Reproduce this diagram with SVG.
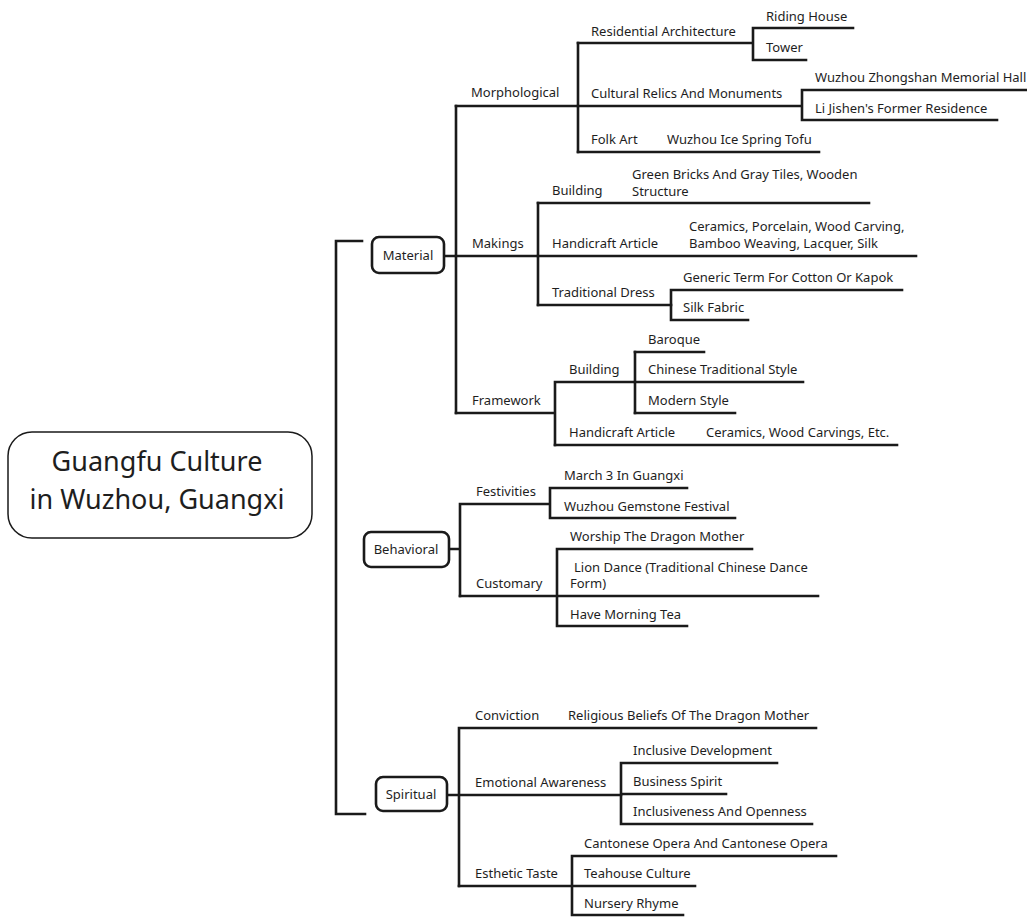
<svg xmlns="http://www.w3.org/2000/svg" width="1027" height="917" viewBox="0 0 1027 917">
<style>
.t{font-family:"Noto Sans","Open Sans","DejaVu Sans",sans-serif;font-size:13px;fill:#1e1e1e}
.big{font-family:"Noto Sans","Open Sans","DejaVu Sans",sans-serif;font-size:27px;fill:#1e1e1e;text-anchor:middle}
.c{text-anchor:middle}
.ln{fill:none;stroke:#1a1a1a;stroke-width:2.6;stroke-linecap:square}
.box{fill:#fff;stroke:#1a1a1a;stroke-width:2.6}
.root{fill:#fff;stroke:#1a1a1a;stroke-width:1.5}
</style>
<rect width="1027" height="917" fill="#fff"/>
<g id="connectors" class="ln">
<path d="M362,241 H336 V814 H365"/>
<path d="M444,256 H456 M456,106 V413"/>
<path d="M456,106 H578 M578,43 V152"/>
<path d="M578,43 H753 M753,28 V60 M753,28 H853 M753,60 H806"/>
<path d="M578,106 H802 M802,90 V120 M802,90 H1030 M802,120 H997"/>
<path d="M578,152 H819"/>
<path d="M456,256 H538 M538,203 V305"/>
<path d="M538,203 H869 M538,256 H916 M538,305 H671"/>
<path d="M671,290 V320 M671,290 H902 M671,320 H748"/>
<path d="M456,413 H555 M555,382 V445 M555,382 H635 M635,352 V413"/>
<path d="M635,352 H704 M635,382 H803 M635,413 H735 M555,445 H897"/>
<path d="M449,549 H460 M460,504 V596 M460,504 H550 M550,488 V518 M550,488 H687 M550,518 H735"/>
<path d="M460,596 H557 M557,549 V626 M557,549 H752 M557,596 H818 M557,626 H687"/>
<path d="M447,795 H459 M459,728 V886 M459,728 H816 M459,795 H621"/>
<path d="M621,763 V824 M621,763 H777 M621,794 H726 M621,824 H812"/>
<path d="M459,886 H572 M572,856 V915 M572,856 H836 M572,886 H695 M572,915 H683"/>
</g>
<g id="root">
<rect class="root" x="8" y="432" width="304" height="106" rx="24"/>
<text class="big" x="157" y="471">Guangfu Culture</text>
<text class="big" x="157" y="509">in Wuzhou, Guangxi</text>
</g>
<g id="material">
<rect class="box" x="372" y="237" width="72" height="36" rx="7"/>
<text class="t c" x="408" y="260">Material</text>
</g>
<g id="morphological"><text class="t" x="471" y="97">Morphological</text></g>
<g id="residential"><text class="t" x="591" y="36">Residential Architecture</text></g>
<g id="riding"><text class="t" x="766" y="21">Riding House</text></g>
<g id="tower"><text class="t" x="766" y="52">Tower</text></g>
<g id="relics"><text class="t" x="591" y="98">Cultural Relics And Monuments</text></g>
<g id="zhongshan"><text class="t" x="815" y="82">Wuzhou Zhongshan Memorial Hall</text></g>
<g id="lijishen"><text class="t" x="815" y="113">Li Jishen's Former Residence</text></g>
<g id="folkart"><text class="t" x="591" y="144">Folk Art</text></g>
<g id="tofu"><text class="t" x="667" y="144">Wuzhou Ice Spring Tofu</text></g>
<g id="makings"><text class="t" x="472" y="248">Makings</text></g>
<g id="building1"><text class="t" x="552" y="195">Building</text></g>
<g id="bricks"><text class="t" x="632" y="179">Green Bricks And Gray Tiles, Wooden</text><text class="t" x="632" y="196">Structure</text></g>
<g id="handicraft1"><text class="t" x="552" y="248">Handicraft Article</text></g>
<g id="ceramics1"><text class="t" x="689" y="231">Ceramics, Porcelain, Wood Carving,</text><text class="t" x="689" y="248">Bamboo Weaving, Lacquer, Silk</text></g>
<g id="dress"><text class="t" x="552" y="297">Traditional Dress</text></g>
<g id="cotton"><text class="t" x="683" y="282">Generic Term For Cotton Or Kapok</text></g>
<g id="silk"><text class="t" x="683" y="312">Silk Fabric</text></g>
<g id="framework"><text class="t" x="472" y="405">Framework</text></g>
<g id="building2"><text class="t" x="569" y="374">Building</text></g>
<g id="baroque"><text class="t" x="648" y="344">Baroque</text></g>
<g id="chinese"><text class="t" x="648" y="374">Chinese Traditional Style</text></g>
<g id="modern"><text class="t" x="648" y="405">Modern Style</text></g>
<g id="handicraft2"><text class="t" x="569" y="437">Handicraft Article</text></g>
<g id="ceramics2"><text class="t" x="706" y="437">Ceramics, Wood Carvings, Etc.</text></g>
<g id="behavioral">
<rect class="box" x="364" y="532" width="85" height="35" rx="7"/>
<text class="t c" x="406" y="554">Behavioral</text>
</g>
<g id="festivities"><text class="t" x="476" y="496">Festivities</text></g>
<g id="march"><text class="t" x="564" y="480">March 3 In Guangxi</text></g>
<g id="gemstone"><text class="t" x="564" y="511">Wuzhou Gemstone Festival</text></g>
<g id="customary"><text class="t" x="476" y="588">Customary</text></g>
<g id="worship"><text class="t" x="570" y="541">Worship The Dragon Mother</text></g>
<g id="lion"><text class="t" x="574" y="572">Lion Dance (Traditional Chinese Dance</text><text class="t" x="570" y="588">Form)</text></g>
<g id="tea"><text class="t" x="570" y="619">Have Morning Tea</text></g>
<g id="spiritual">
<rect class="box" x="376" y="777" width="71" height="34" rx="7"/>
<text class="t c" x="411" y="799">Spiritual</text>
</g>
<g id="conviction"><text class="t" x="475" y="720">Conviction</text></g>
<g id="religious"><text class="t" x="568" y="720">Religious Beliefs Of The Dragon Mother</text></g>
<g id="emotional"><text class="t" x="475" y="787">Emotional Awareness</text></g>
<g id="inclusivedev"><text class="t" x="633" y="755">Inclusive Development</text></g>
<g id="business"><text class="t" x="633" y="786">Business Spirit</text></g>
<g id="openness"><text class="t" x="633" y="816">Inclusiveness And Openness</text></g>
<g id="esthetic"><text class="t" x="475" y="878">Esthetic Taste</text></g>
<g id="opera"><text class="t" x="584" y="848">Cantonese Opera And Cantonese Opera</text></g>
<g id="teahouse"><text class="t" x="584" y="878">Teahouse Culture</text></g>
<g id="nursery"><text class="t" x="584" y="908">Nursery Rhyme</text></g>
</svg>
